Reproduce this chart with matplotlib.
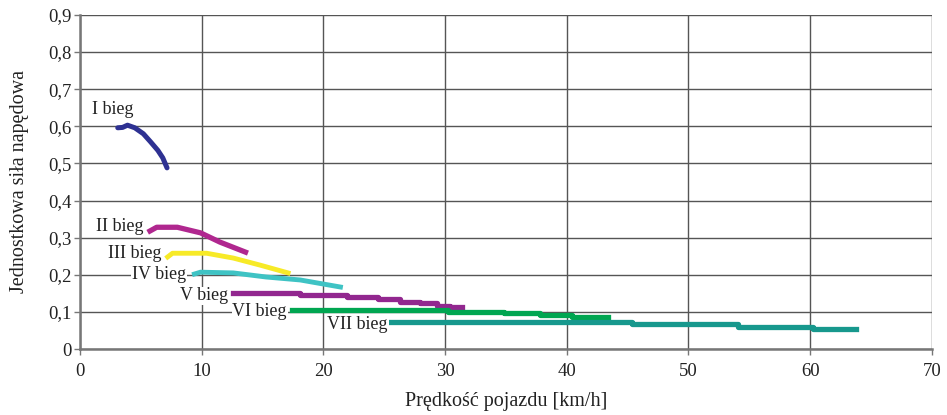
import numpy as np
import matplotlib
matplotlib.use("Agg")
import matplotlib.pyplot as plt

plt.rcParams['font.family'] = ['Liberation Serif', 'DejaVu Serif']

# gear curves: vehicle speed [km/h] and unit tractive force
x1 = [3.1, 3.5, 3.9, 4.5, 5.2, 5.8, 6.4, 6.8, 7.15]
y1 = [0.596, 0.597, 0.603, 0.596, 0.580, 0.558, 0.535, 0.515, 0.488]

x2 = [5.75, 6.3, 8.0, 9.9, 11.5, 13.6]
y2 = [0.318, 0.328, 0.328, 0.313, 0.288, 0.261]

x3 = [7.2, 7.6, 10.4, 12.6, 14.8, 17.1]
y3 = [0.248, 0.258, 0.258, 0.245, 0.226, 0.205]

x4 = [9.4, 9.9, 12.6, 15.3, 18.1, 21.4]
y4 = [0.202, 0.207, 0.205, 0.194, 0.186, 0.167]

x5 = [12.6, 18.1, 21.9, 24.5, 26.3, 27.9, 29.3, 30.4, 31.4]
y5 = [0.152, 0.146, 0.139, 0.134, 0.128, 0.123, 0.117, 0.112, 0.112]

x6 = [17.4, 30.2, 34.8, 37.8, 40.4, 43.4]
y6 = [0.105, 0.100, 0.096, 0.091, 0.085, 0.085]

x7 = [25.5, 45.4, 54.1, 60.2, 63.8]
y7 = [0.072, 0.067, 0.060, 0.055, 0.055]

labels = ["I bieg", "II bieg", "III bieg", "IV bieg", "V bieg", "VI bieg", "VII bieg"]
label_x = [2.65, 5.2, 6.7, 8.7, 12.2, 17.0, 25.3]
label_y = [0.644, 0.329, 0.256, 0.200, 0.143, 0.100, 0.065]

colors = ['#2e3192', '#b0278f', '#f7ea27', '#3fc3c4', '#92278f', '#00a651', '#17988d']

fig = plt.figure(figsize=(9.47, 4.15), dpi=100)
ax = fig.add_axes([0.0845, 0.159, 0.8995, 0.805])

ax.plot(x1, y1, color=colors[0], lw=3.6, solid_capstyle='round', zorder=3)
ax.plot(x2, y2, color=colors[1], lw=3.8, zorder=3)
ax.plot(x3, y3, color=colors[2], lw=3.5, zorder=3)
ax.plot(x4, y4, color=colors[3], lw=3.5, zorder=3)
ax.plot(x5, y5, color=colors[4], lw=3.8, drawstyle='steps-post', zorder=3)
ax.plot(x6, y6, color=colors[5], lw=3.8, drawstyle='steps-post', zorder=3)
ax.plot(x7, y7, color=colors[6], lw=3.8, drawstyle='steps-post', zorder=3)

for i, lab in enumerate(labels):
    ha = 'center' if i == 0 else 'right'
    ax.text(label_x[i], label_y[i], lab, ha=ha, va='center', fontsize=13,
            color='#222222', zorder=4,
            bbox=dict(facecolor='white', edgecolor='none', pad=0.5))

ax.set_xlim(0, 70)
ax.set_ylim(0, 0.9)
ax.set_xticks(np.arange(0, 71, 10))
ax.set_yticks(np.arange(0, 0.91, 0.1))
ax.set_yticklabels([("%.1f" % v).replace('.', ',') if v > 0 else "0" for v in np.arange(0, 0.91, 0.1)])
ax.grid(True, color='#555555', lw=1)
ax.set_axisbelow(True)

for s in ['top', 'right']:
    ax.spines[s].set_visible(False)
for s in ['left', 'bottom']:
    ax.spines[s].set_color('#777777')
    ax.spines[s].set_linewidth(1.8)
ax.tick_params(colors='#777777', labelcolor='#222222', labelsize=13.5, length=4, width=1)
ax.tick_params(axis='x', pad=6)
ax.tick_params(axis='y', pad=2)

ax.set_xlabel("Prędkość pojazdu [km/h]", fontsize=14.5, color='#222222', labelpad=9)
ax.set_ylabel("Jednostkowa siła napędowa", fontsize=14.5, color='#222222', labelpad=14)

fig.savefig("out.png", dpi=100)
